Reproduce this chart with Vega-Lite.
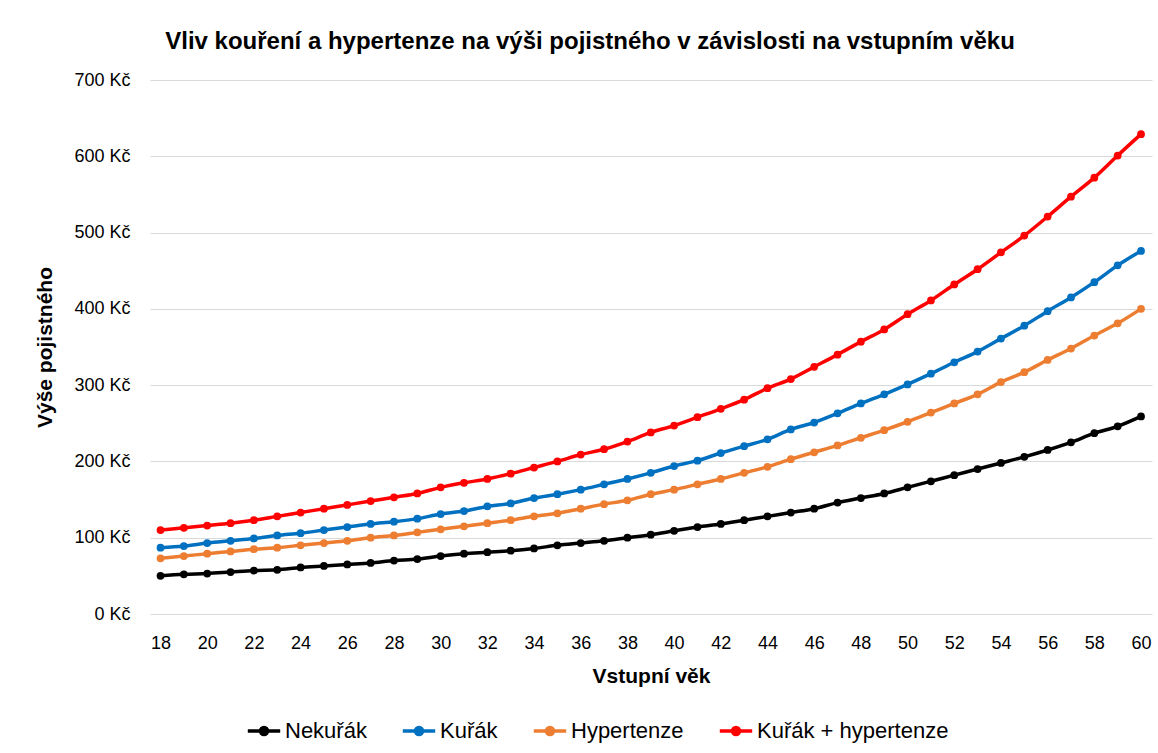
{
  "$schema": "https://vega.github.io/schema/vega-lite/v6.json",
  "autosize": {"type": "none"},
  "width": 1002,
  "height": 534,
  "padding": {"left": 150, "top": 80, "right": 6, "bottom": 139},
  "background": "white",
  "config": {
    "font": "Liberation Sans",
    "view": {"stroke": null}
  },
  "title": {
    "text": "Vliv kouření a hypertenze na výši pojistného v závislosti na vstupním věku",
    "anchor": "middle",
    "frame": "group",
    "dx": -61,
    "offset": 17,
    "fontSize": 24,
    "fontWeight": "bold",
    "font": "Liberation Sans",
    "color": "#000000",
    "limit": 1100
  },
  "datasets": {
    "rows": [
      {"vek": 18, "serie": "Nekuřák", "cena": 50},
      {"vek": 19, "serie": "Nekuřák", "cena": 52},
      {"vek": 20, "serie": "Nekuřák", "cena": 53},
      {"vek": 21, "serie": "Nekuřák", "cena": 55},
      {"vek": 22, "serie": "Nekuřák", "cena": 57},
      {"vek": 23, "serie": "Nekuřák", "cena": 58},
      {"vek": 24, "serie": "Nekuřák", "cena": 61},
      {"vek": 25, "serie": "Nekuřák", "cena": 63},
      {"vek": 26, "serie": "Nekuřák", "cena": 65},
      {"vek": 27, "serie": "Nekuřák", "cena": 67},
      {"vek": 28, "serie": "Nekuřák", "cena": 70},
      {"vek": 29, "serie": "Nekuřák", "cena": 72},
      {"vek": 30, "serie": "Nekuřák", "cena": 76},
      {"vek": 31, "serie": "Nekuřák", "cena": 79},
      {"vek": 32, "serie": "Nekuřák", "cena": 81},
      {"vek": 33, "serie": "Nekuřák", "cena": 83},
      {"vek": 34, "serie": "Nekuřák", "cena": 86},
      {"vek": 35, "serie": "Nekuřák", "cena": 90},
      {"vek": 36, "serie": "Nekuřák", "cena": 93},
      {"vek": 37, "serie": "Nekuřák", "cena": 96},
      {"vek": 38, "serie": "Nekuřák", "cena": 100},
      {"vek": 39, "serie": "Nekuřák", "cena": 104},
      {"vek": 40, "serie": "Nekuřák", "cena": 109},
      {"vek": 41, "serie": "Nekuřák", "cena": 114},
      {"vek": 42, "serie": "Nekuřák", "cena": 118},
      {"vek": 43, "serie": "Nekuřák", "cena": 123},
      {"vek": 44, "serie": "Nekuřák", "cena": 128},
      {"vek": 45, "serie": "Nekuřák", "cena": 133},
      {"vek": 46, "serie": "Nekuřák", "cena": 138},
      {"vek": 47, "serie": "Nekuřák", "cena": 146},
      {"vek": 48, "serie": "Nekuřák", "cena": 152},
      {"vek": 49, "serie": "Nekuřák", "cena": 158},
      {"vek": 50, "serie": "Nekuřák", "cena": 166},
      {"vek": 51, "serie": "Nekuřák", "cena": 174},
      {"vek": 52, "serie": "Nekuřák", "cena": 182},
      {"vek": 53, "serie": "Nekuřák", "cena": 190},
      {"vek": 54, "serie": "Nekuřák", "cena": 198},
      {"vek": 55, "serie": "Nekuřák", "cena": 206},
      {"vek": 56, "serie": "Nekuřák", "cena": 215},
      {"vek": 57, "serie": "Nekuřák", "cena": 225},
      {"vek": 58, "serie": "Nekuřák", "cena": 237},
      {"vek": 59, "serie": "Nekuřák", "cena": 246},
      {"vek": 60, "serie": "Nekuřák", "cena": 259},
      {"vek": 18, "serie": "Kuřák", "cena": 87},
      {"vek": 19, "serie": "Kuřák", "cena": 89},
      {"vek": 20, "serie": "Kuřák", "cena": 93},
      {"vek": 21, "serie": "Kuřák", "cena": 96},
      {"vek": 22, "serie": "Kuřák", "cena": 99},
      {"vek": 23, "serie": "Kuřák", "cena": 103},
      {"vek": 24, "serie": "Kuřák", "cena": 106},
      {"vek": 25, "serie": "Kuřák", "cena": 110},
      {"vek": 26, "serie": "Kuřák", "cena": 114},
      {"vek": 27, "serie": "Kuřák", "cena": 118},
      {"vek": 28, "serie": "Kuřák", "cena": 121},
      {"vek": 29, "serie": "Kuřák", "cena": 125},
      {"vek": 30, "serie": "Kuřák", "cena": 131},
      {"vek": 31, "serie": "Kuřák", "cena": 135},
      {"vek": 32, "serie": "Kuřák", "cena": 141},
      {"vek": 33, "serie": "Kuřák", "cena": 145},
      {"vek": 34, "serie": "Kuřák", "cena": 152},
      {"vek": 35, "serie": "Kuřák", "cena": 157},
      {"vek": 36, "serie": "Kuřák", "cena": 163},
      {"vek": 37, "serie": "Kuřák", "cena": 170},
      {"vek": 38, "serie": "Kuřák", "cena": 177},
      {"vek": 39, "serie": "Kuřák", "cena": 185},
      {"vek": 40, "serie": "Kuřák", "cena": 194},
      {"vek": 41, "serie": "Kuřák", "cena": 201},
      {"vek": 42, "serie": "Kuřák", "cena": 211},
      {"vek": 43, "serie": "Kuřák", "cena": 220},
      {"vek": 44, "serie": "Kuřák", "cena": 229},
      {"vek": 45, "serie": "Kuřák", "cena": 242},
      {"vek": 46, "serie": "Kuřák", "cena": 251},
      {"vek": 47, "serie": "Kuřák", "cena": 263},
      {"vek": 48, "serie": "Kuřák", "cena": 276},
      {"vek": 49, "serie": "Kuřák", "cena": 288},
      {"vek": 50, "serie": "Kuřák", "cena": 301},
      {"vek": 51, "serie": "Kuřák", "cena": 315},
      {"vek": 52, "serie": "Kuřák", "cena": 330},
      {"vek": 53, "serie": "Kuřák", "cena": 344},
      {"vek": 54, "serie": "Kuřák", "cena": 361},
      {"vek": 55, "serie": "Kuřák", "cena": 378},
      {"vek": 56, "serie": "Kuřák", "cena": 397},
      {"vek": 57, "serie": "Kuřák", "cena": 415},
      {"vek": 58, "serie": "Kuřák", "cena": 435},
      {"vek": 59, "serie": "Kuřák", "cena": 457},
      {"vek": 60, "serie": "Kuřák", "cena": 476},
      {"vek": 18, "serie": "Hypertenze", "cena": 73},
      {"vek": 19, "serie": "Hypertenze", "cena": 76},
      {"vek": 20, "serie": "Hypertenze", "cena": 79},
      {"vek": 21, "serie": "Hypertenze", "cena": 82},
      {"vek": 22, "serie": "Hypertenze", "cena": 85},
      {"vek": 23, "serie": "Hypertenze", "cena": 87},
      {"vek": 24, "serie": "Hypertenze", "cena": 90},
      {"vek": 25, "serie": "Hypertenze", "cena": 93},
      {"vek": 26, "serie": "Hypertenze", "cena": 96},
      {"vek": 27, "serie": "Hypertenze", "cena": 100},
      {"vek": 28, "serie": "Hypertenze", "cena": 103},
      {"vek": 29, "serie": "Hypertenze", "cena": 107},
      {"vek": 30, "serie": "Hypertenze", "cena": 111},
      {"vek": 31, "serie": "Hypertenze", "cena": 115},
      {"vek": 32, "serie": "Hypertenze", "cena": 119},
      {"vek": 33, "serie": "Hypertenze", "cena": 123},
      {"vek": 34, "serie": "Hypertenze", "cena": 128},
      {"vek": 35, "serie": "Hypertenze", "cena": 132},
      {"vek": 36, "serie": "Hypertenze", "cena": 138},
      {"vek": 37, "serie": "Hypertenze", "cena": 144},
      {"vek": 38, "serie": "Hypertenze", "cena": 149},
      {"vek": 39, "serie": "Hypertenze", "cena": 157},
      {"vek": 40, "serie": "Hypertenze", "cena": 163},
      {"vek": 41, "serie": "Hypertenze", "cena": 170},
      {"vek": 42, "serie": "Hypertenze", "cena": 177},
      {"vek": 43, "serie": "Hypertenze", "cena": 185},
      {"vek": 44, "serie": "Hypertenze", "cena": 193},
      {"vek": 45, "serie": "Hypertenze", "cena": 203},
      {"vek": 46, "serie": "Hypertenze", "cena": 212},
      {"vek": 47, "serie": "Hypertenze", "cena": 221},
      {"vek": 48, "serie": "Hypertenze", "cena": 231},
      {"vek": 49, "serie": "Hypertenze", "cena": 241},
      {"vek": 50, "serie": "Hypertenze", "cena": 252},
      {"vek": 51, "serie": "Hypertenze", "cena": 264},
      {"vek": 52, "serie": "Hypertenze", "cena": 276},
      {"vek": 53, "serie": "Hypertenze", "cena": 288},
      {"vek": 54, "serie": "Hypertenze", "cena": 304},
      {"vek": 55, "serie": "Hypertenze", "cena": 317},
      {"vek": 56, "serie": "Hypertenze", "cena": 333},
      {"vek": 57, "serie": "Hypertenze", "cena": 348},
      {"vek": 58, "serie": "Hypertenze", "cena": 365},
      {"vek": 59, "serie": "Hypertenze", "cena": 381},
      {"vek": 60, "serie": "Hypertenze", "cena": 400},
      {"vek": 18, "serie": "Kuřák + hypertenze", "cena": 110},
      {"vek": 19, "serie": "Kuřák + hypertenze", "cena": 113},
      {"vek": 20, "serie": "Kuřák + hypertenze", "cena": 116},
      {"vek": 21, "serie": "Kuřák + hypertenze", "cena": 119},
      {"vek": 22, "serie": "Kuřák + hypertenze", "cena": 123},
      {"vek": 23, "serie": "Kuřák + hypertenze", "cena": 128},
      {"vek": 24, "serie": "Kuřák + hypertenze", "cena": 133},
      {"vek": 25, "serie": "Kuřák + hypertenze", "cena": 138},
      {"vek": 26, "serie": "Kuřák + hypertenze", "cena": 143},
      {"vek": 27, "serie": "Kuřák + hypertenze", "cena": 148},
      {"vek": 28, "serie": "Kuřák + hypertenze", "cena": 153},
      {"vek": 29, "serie": "Kuřák + hypertenze", "cena": 158},
      {"vek": 30, "serie": "Kuřák + hypertenze", "cena": 166},
      {"vek": 31, "serie": "Kuřák + hypertenze", "cena": 172},
      {"vek": 32, "serie": "Kuřák + hypertenze", "cena": 177},
      {"vek": 33, "serie": "Kuřák + hypertenze", "cena": 184},
      {"vek": 34, "serie": "Kuřák + hypertenze", "cena": 192},
      {"vek": 35, "serie": "Kuřák + hypertenze", "cena": 200},
      {"vek": 36, "serie": "Kuřák + hypertenze", "cena": 209},
      {"vek": 37, "serie": "Kuřák + hypertenze", "cena": 216},
      {"vek": 38, "serie": "Kuřák + hypertenze", "cena": 226},
      {"vek": 39, "serie": "Kuřák + hypertenze", "cena": 238},
      {"vek": 40, "serie": "Kuřák + hypertenze", "cena": 247},
      {"vek": 41, "serie": "Kuřák + hypertenze", "cena": 258},
      {"vek": 42, "serie": "Kuřák + hypertenze", "cena": 269},
      {"vek": 43, "serie": "Kuřák + hypertenze", "cena": 281},
      {"vek": 44, "serie": "Kuřák + hypertenze", "cena": 296},
      {"vek": 45, "serie": "Kuřák + hypertenze", "cena": 308},
      {"vek": 46, "serie": "Kuřák + hypertenze", "cena": 324},
      {"vek": 47, "serie": "Kuřák + hypertenze", "cena": 340},
      {"vek": 48, "serie": "Kuřák + hypertenze", "cena": 357},
      {"vek": 49, "serie": "Kuřák + hypertenze", "cena": 373},
      {"vek": 50, "serie": "Kuřák + hypertenze", "cena": 393},
      {"vek": 51, "serie": "Kuřák + hypertenze", "cena": 411},
      {"vek": 52, "serie": "Kuřák + hypertenze", "cena": 432},
      {"vek": 53, "serie": "Kuřák + hypertenze", "cena": 452},
      {"vek": 54, "serie": "Kuřák + hypertenze", "cena": 474},
      {"vek": 55, "serie": "Kuřák + hypertenze", "cena": 496},
      {"vek": 56, "serie": "Kuřák + hypertenze", "cena": 521},
      {"vek": 57, "serie": "Kuřák + hypertenze", "cena": 547},
      {"vek": 58, "serie": "Kuřák + hypertenze", "cena": 572},
      {"vek": 59, "serie": "Kuřák + hypertenze", "cena": 601},
      {"vek": 60, "serie": "Kuřák + hypertenze", "cena": 629}
    ]
  },
  "data": {"name": "rows"},
  "encoding": {
    "x": {
      "field": "vek",
      "type": "quantitative",
      "scale": {"domain": [17.55, 60.47], "nice": false, "zero": false},
      "axis": {
        "title": "Vstupní věk",
        "values": [18, 20, 22, 24, 26, 28, 30, 32, 34, 36, 38, 40, 42, 44, 46, 48, 50, 52, 54, 56, 58, 60],
        "grid": false,
        "domain": false,
        "ticks": false,
        "labelFontSize": 18,
        "labelColor": "#000000",
        "labelPadding": 20,
        "titleFontSize": 21,
        "titleFontWeight": "bold",
        "titleColor": "#000000",
        "titlePadding": 13
      }
    },
    "y": {
      "field": "cena",
      "type": "quantitative",
      "scale": {"domain": [0, 700], "nice": false},
      "axis": {
        "title": "Výše pojistného",
        "values": [0, 100, 200, 300, 400, 500, 600, 700],
        "labelExpr": "datum.value + ' Kč'",
        "grid": true,
        "gridColor": "#d9d9d9",
        "gridWidth": 1,
        "domain": false,
        "ticks": false,
        "labelFontSize": 18,
        "labelColor": "#000000",
        "labelPadding": 20,
        "titleFontSize": 21,
        "titleFontWeight": "bold",
        "titleColor": "#000000",
        "titleX": -105,
        "titleY": 267,
        "titleAngle": -90,
        "titleAlign": "center",
        "titleBaseline": "middle"
      }
    },
    "color": {
      "field": "serie",
      "type": "nominal",
      "sort": ["Nekuřák", "Kuřák", "Hypertenze", "Kuřák + hypertenze"],
      "scale": {
        "domain": ["Nekuřák", "Kuřák", "Hypertenze", "Kuřák + hypertenze"],
        "range": ["#000000", "#0070C0", "#ED7D31", "#FF0000"]
      },
      "legend": {
        "title": null,
        "orient": "none",
        "legendX": 96,
        "legendY": 633,
        "direction": "horizontal",
        "columns": 4,
        "columnPadding": 28,
        "labelFontSize": 22,
        "labelLimit": 400,
        "labelColor": "#000000",
        "labelOffset": 3,
        "symbolType": "M-1,0L1,0M-0.22,0a0.22,0.22 0 1,0 0.44,0a0.22,0.22 0 1,0 -0.44,0",
        "symbolSize": 1050,
        "symbolStrokeWidth": 3.5,
        "symbolOpacity": 1
      }
    }
  },
  "layer": [
    {
      "mark": {"type": "line", "strokeWidth": 3.5, "interpolate": "monotone"}
    },
    {
      "mark": {"type": "point", "filled": true, "size": 60, "opacity": 1}
    }
  ]
}
